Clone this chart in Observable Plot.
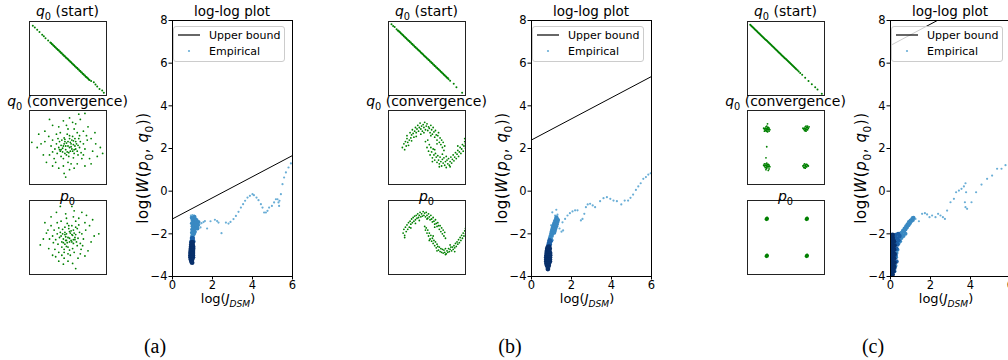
<!DOCTYPE html>
<html><head><meta charset="utf-8">
<script src="https://cdn.jsdelivr.net/npm/d3@7"></script>
<script src="https://cdn.jsdelivr.net/npm/@observablehq/plot@0.6"></script>
<style>
html,body{margin:0;padding:0;background:#fff;}
#page{position:relative;width:1008px;height:360px;overflow:hidden;font-family:"DejaVu Sans",sans-serif;background:#fff;}
</style></head><body><div id="page"></div>
<script>
// ---------- DATA ----------
// small panels: coordinates in % of the box (x right, y up)
const startA = [[4.3,94.2],[6.9,92],[10,88.9],[13,85.8],[16.5,82.2],[18.6,80],[20.8,77.3],[24.2,74.2],
 [27,71.5],[28,71],[29,69.5],[30,69],[31,67.5],[32,67],[33,65.5],[34,65],[35,63.5],[36,63],[37,61.5],[38,61],[39,59.5],[40,59],
 [41,57.5],[42,57],[43,55.5],[44,55],[45,53.5],[46,53],[47,51.5],[48,51],[49,49.5],[50,49],[51,47.5],[52,47],[53,45.5],[54,45],
 [55,43.5],[56,43],[57,41.5],[58,41],[59,39.5],[60,39],[61,37.5],[62,37],[63,35.5],[64,35],[65,33.5],[66,33],[67,31.5],[68,31],
 [69,29.5],[70,29],[71,27.5],[72,27],[73,25.5],[74,25],[75,23.5],[76,23],[77,21.5],[78,21],[80,19.5],
 [83.5,17.8],[85.7,14.7],[87.9,12],[90.9,8.9],[94.4,6.7],[96.5,3.6]];
const convA = [[50,52],[45,55],[55,48],[60,58],[40,45],[52,62],[48,40],[58,42],[35,55],[65,50],[42,60],[54,55],[47,47],[62,45],[38,50],
 [56,65],[44,35],[50,30],[70,55],[30,60],[53,45],[46,58],[59,52],[41,53],[64,62],[36,42],[57,36],[49,68],[67,43],[33,48],[52,50],
 [48,56],[61,55],[43,44],[55,60],[39,58],[66,58],[51,38],[45,63],[58,47],[28,52],[72,48],[50,75],[62,70],[40,70],[54,28],[44,25],
 [68,35],[32,35],[75,60],[25,65],[47,52],[53,57],[57,54],[43,49],[60,48],[37,62],[63,40],[49,44],[56,45],[46,42],[52,66],[41,38],
 [65,66],[35,68],[70,40],[30,44],[58,75],[48,80],[60,82],[66,88],[72,96],[64,95],[20,72],[15,55],[3,57],[10,50],[18,40],[22,30],
 [30,25],[38,22],[45,15],[47,10],[52,20],[58,22],[62,28],[72,25],[78,35],[82,45],[86,55],[92,50],[95,42],[88,38],[80,62],[85,70],
 [76,78],[70,72],[38,78],[30,80],[26,88],[44,86],[52,90],[56,84],[20,58],[12,68],[80,28],[34,30],[26,40],[74,66],[50,58],[54,51],
 [44,52],[59,62],[41,47],[57,59],[39,47],[63,53],[51,43],[46,61]];
const p0A = [[50,50],[46,54],[54,46],[58,56],[42,44],[51,62],[48,38],[57,42],[36,55],[63,49],[43,61],[55,54],[47,46],[61,44],[39,50],
 [55,66],[45,34],[50,28],[68,55],[32,60],[52,44],[46,57],[59,50],[41,52],[62,62],[37,41],[56,35],[49,69],[66,42],[34,47],[52,49],
 [48,55],[60,54],[44,43],[54,59],[40,57],[65,57],[50,37],[46,64],[57,47],[30,52],[70,48],[48,76],[60,72],[41,72],[53,26],[45,22],
 [67,34],[33,34],[73,60],[28,66],[47,51],[53,56],[56,53],[44,48],[59,47],[38,63],[62,39],[49,43],[55,44],[46,41],[51,66],[42,37],
 [64,67],[36,70],[69,39],[31,43],[57,78],[47,82],[58,86],[40,92],[35,84],[55,92],[20,70],[22,56],[14,40],[18,48],[25,35],[30,26],
 [38,18],[44,14],[50,18],[60,8],[56,15],[63,22],[72,25],[76,32],[80,44],[84,52],[90,55],[78,66],[82,74],[74,80],[68,84],[64,76],
 [28,78],[24,60],[26,48],[45,30],[52,33],[58,30],[66,28],[72,70],[38,30],[42,26],[34,24],[60,64],[52,58],[48,46],[43,55],[57,60]];

const startB = [[3.9,96.4],[6,94],[8,92.5],[10.5,89.5],
 [12,88],[13,87.5],[14,86],[15,85.5],[16,84],[17,83.5],[18,82],[19,81.5],[20,80],[21,79.5],[22,78],[23,77.5],[24,76],[25,75.5],
 [26,74],[27,73.5],[28,72],[29,71.5],[30,70],[31,69.5],[32,68],[33,67.5],[34,66],[35,65.5],[36,64],[37,63.5],[38,62],[39,61.5],
 [40,60],[41,59.5],[42,58],[43,57.5],[44,56],[45,55.5],[46,54],[47,53.5],[48,52],[49,51.5],[50,50],[51,49.5],[52,48],[53,47.5],
 [54,46],[55,45.5],[56,44],[57,43.5],[58,42],[59,41.5],[60,40],[61,39.5],[62,38],[63,37.5],[64,36],[65,35.5],[66,34],[67,33.5],
 [68,32],[69,31.5],[70,30],[71,29.5],[72,28],[73,27.5],[74,26],[75,25.5],[76,24],[77,23.5],[78,22],[80,20],
 [84.7,15.8],[88.2,11.3],[95.6,3.6]];
const convB = [[18,50],[20,55],[21,47],[22,58],[23,52],[24,62],[25,57],[24,66],[27,60],[28,70],[29,63],[30,67],[31,74],[32,69],
 [33,64],[34,72],[35,77],[36,70],[37,75],[38,80],[39,72],[40,77],[41,83],[42,75],[43,79],[44,72],[45,81],[46,77],[47,84],[48,74],
 [49,79],[50,82],[51,73],[52,78],[53,76],[54,70],[55,80],[56,74],[57,68],[58,77],[59,71],[60,64],[61,73],[62,67],[63,60],[64,66],
 [65,70],[66,57],[67,63],[68,54],[69,60],[70,50],[71,57],[72,46],[73,52],[36,65],[46,70],[55,66],[26,53],[63,55],[42,68],[30,59],
 [48,58],[50,50],[51,60],[52,45],[53,54],[54,40],[55,50],[56,44],[57,36],[58,48],[59,40],[60,33],[61,42],[62,37],[63,30],[64,39],
 [65,33],[66,28],[67,37],[68,31],[69,25],[70,34],[71,29],[72,36],[73,26],[74,31],[75,23],[76,33],[77,28],[78,35],[79,26],[80,31],
 [81,37],[82,29],[83,34],[84,40],[85,32],[86,37],[87,43],[88,35],[89,41],[90,46],[91,38],[92,44],[93,50],[94,42],[95,48],[96,54],
 [97,45],[98,52],[99,58],[100,49],[100,55],[99,62],[60,47],[70,41],[80,24],[66,24],[57,31],[75,38],[90,52]];
const p0B = [[19,56],[20,61],[21,53],[22,64],[23,58],[24,67],[25,61],[26,70],[27,64],[28,72],[29,68],[30,75],[31,70],[32,77],
 [33,72],[34,79],[35,74],[36,80],[37,76],[38,82],[39,77],[40,80],[41,84],[42,78],[43,82],[44,79],[45,85],[46,80],[47,83],[48,78],
 [49,84],[50,80],[51,76],[52,82],[53,78],[54,74],[55,80],[56,75],[57,71],[58,77],[59,72],[60,68],[61,74],[62,69],[63,65],[64,70],
 [65,66],[66,61],[67,66],[68,58],[69,63],[70,55],[71,60],[72,52],[73,57],[74,49],[29,63],[40,73],[50,75],[60,64],[21,50],[35,69],
 [47,65],[48,60],[49,63],[50,56],[51,60],[52,52],[53,56],[54,48],[55,53],[56,45],[57,49],[58,42],[59,46],[60,39],[61,44],[62,36],
 [63,41],[64,38],[65,33],[66,37],[67,31],[68,35],[69,30],[70,34],[71,29],[72,33],[73,30],[74,35],[75,28],[76,32],[77,30],[78,35],
 [79,31],[80,34],[81,37],[82,32],[83,37],[84,34],[85,39],[86,36],[87,42],[88,38],[89,44],[90,41],[91,47],[92,43],[93,50],[94,46],
 [95,53],[96,49],[97,56],[98,52],[99,59],[100,55],[100,62],[53,46],[63,32],[74,27],[86,31],[58,52],[80,40]];

const startC = [[3.5,95.5],[4.5,94.5],[5.5,93.5],[6.5,92.5],[7.5,91.5],[8.5,90.5],[9.5,89.5],[10.5,88.5],[11.5,87.5],[12.5,86.5],
 [13.5,85.5],[14.5,84.5],[15.5,83.5],[16.5,82.5],[17.5,81.5],[18.5,80.5],[19.5,79.5],[20.5,78.5],[21.5,77.5],[22.5,76.5],[23.5,75.5],
 [24.5,74.5],[25.5,73.5],[26.5,72.5],[27.5,71.5],[28.5,70.5],[29.5,69.5],[30.5,68.5],[31.5,67.5],[32.5,66.5],[33.5,65.5],[34.5,64.5],
 [35.5,63.5],[36.5,62.5],[37.5,61.5],[38.5,60.5],[39.5,59.5],[40.5,58.5],[41.5,57.5],[42.5,56.5],[43.5,55.5],[44.5,54.5],[45.5,53.5],
 [46.5,52.5],[47.5,51.5],[48.5,50.5],[49.5,49.5],[50.5,48.5],[51.5,47.5],[52.5,46.5],[53.5,45.5],[54.5,44.5],[55.5,43.5],[56.5,42.5],
 [57.5,41.5],[58.5,40.5],[59.5,39.5],[60.5,38.5],[61.5,37.5],[62.5,36.5],[63.5,35.5],[65,34],[66.5,32.5],
 [68.4,30.5],[71,28],[74.9,24],[79.2,19.6],[83.5,15.2],[87.9,11.3],[90.9,8],[96.5,2.5]];
const convC = [[25,75],[23,76],[27,74],[24,73],[26,77],[22,75],[28,76],[25,72],[24,78],[27,77],[23,73],[26,74],[21,76],[29,74],
 [25,79],[28,72],[22,72],[26,71],[24,75],[26,76],
 [76,75],[74,76],[78,74],[75,73],[77,77],[73,75],[79,76],[76,72],[75,78],[78,77],[74,73],[77,74],[80,78],[72,76],[76,79],[75,75],
 [25,25],[23,26],[27,24],[24,23],[26,27],[22,25],[28,26],[25,22],[24,28],[27,27],[23,23],[26,24],[21,26],[29,24],[25,29],[28,21],
 [22,28],[27,19],[24,20],[25,26],
 [75,25],[73,26],[77,24],[74,23],[76,27],[72,25],[78,26],[75,22],[74,28],[77,27],[73,23],[76,24],[79,25],[75,26],
 [25,51],[24,36],[26,82],[78,79]];
const p0C = [[25,75],[24,76],[26,74],[25,76.5],[23.5,74.5],[26.5,75.5],[24.5,73.5],[25.5,77],[24,75],[26,76],
 [77,75],[76,76],[78,74],[77,76.5],[75.5,74.5],[78.5,75.5],[76.5,73.5],[77.5,77],[76,75],[78,76],
 [25,25],[24,26],[26,24],[25,26.5],[23.5,24.5],[26.5,25.5],[24.5,23.5],[25.5,27],[24,25],[26,26],
 [77,25],[76,26],[78,24],[77,26.5],[75.5,24.5],[78.5,25.5],[76.5,23.5],[77.5,27],[76,25],[78,26]];

// log-log panels: [log J_DSM, log W]
const xTicks = [0, 2, 4, 6];
const yTicks = [-4, -2, 0, 2, 4, 6, 8];
const boundA = [[0,-1.3],[6,1.67]];
const boundB = [[0,2.4],[6,5.375]];
const boundC = [[0,6.83],[6,9.83]];

const darkA = [[0.95,-3.3],[0.92,-3.2],[0.98,-3.2],[0.9,-3.1],[0.96,-3.1],[1.02,-3.1],[0.9,-3.0],[0.96,-3.0],[1.02,-3.0],[0.9,-2.9],
 [0.96,-2.9],[1.02,-2.9],[0.91,-2.8],[0.97,-2.8],[1.02,-2.8],[0.92,-2.7],[0.98,-2.7],[1.03,-2.7],[0.93,-2.6],[0.99,-2.6],[1.03,-2.6],
 [0.94,-2.5],[1.0,-2.5],[0.96,-2.4],[1.01,-2.4],[0.98,-3.35]];
const deepA = [[0.95,-2.35],[1.0,-2.3],[1.04,-2.35],[0.97,-2.2],[1.02,-2.2]];
const midA = [[0.98,-2.1],[1.03,-2.05],[1.08,-2.0],[0.97,-1.95],[1.02,-1.9],[1.07,-1.85],[1.12,-1.9],[0.98,-1.8],[1.04,-1.75],
 [1.1,-1.7],[1.15,-1.75],[1.0,-1.65],[1.06,-1.6],[1.12,-1.55],[1.18,-1.6],[0.97,-1.5],[1.03,-1.45],[1.09,-1.4],[1.15,-1.45],
 [1.22,-1.5],[1.0,-1.35],[1.06,-1.3],[1.13,-1.3],[1.2,-1.35],[0.96,-1.25],[1.1,-1.2],[1.27,-1.6],[1.3,-1.45],[1.25,-1.75]];
const lightA = [[0.92,-1.15],[1.0,-1.12],[1.08,-1.15],[1.35,-1.55],[1.4,-1.7],[1.45,-1.5],[1.55,-1.45],[1.62,-1.4],[1.73,-1.75],
 [1.9,-1.41],[2.12,-1.34],[2.23,-1.4],[2.3,-1.47],[2.45,-1.97],[2.67,-1.47],[2.8,-1.52],[2.9,-1.44],[3.05,-1.31],[3.17,-1.16],
 [3.3,-0.97],[3.42,-0.77],[3.53,-0.61],[3.63,-0.45],[3.75,-0.3],[3.87,-0.22],[4.0,-0.14],[4.07,-0.19],[4.2,-0.3],[4.3,-0.42],
 [4.42,-0.61],[4.5,-0.77],[4.58,-1.0],[4.67,-1.0],[4.75,-0.92],[4.83,-0.77],[4.97,-0.69],[5.08,-0.53],[5.17,-0.38],[5.25,-0.38],
 [5.3,-0.53],[5.33,-0.69],[5.35,-0.45],[5.42,-0.14],[5.5,0.33],[5.58,0.64],[5.67,0.88],[5.8,1.11],[5.92,1.3]];

const darkB = [[0.82,-3.65],[0.78,-3.5],[0.86,-3.5],[0.75,-3.4],[0.81,-3.4],[0.87,-3.4],[0.74,-3.3],[0.8,-3.3],[0.86,-3.3],[0.92,-3.3],
 [0.74,-3.2],[0.8,-3.2],[0.86,-3.2],[0.92,-3.2],[0.74,-3.1],[0.8,-3.1],[0.86,-3.1],[0.92,-3.1],[0.75,-3.0],[0.81,-3.0],[0.87,-3.0],
 [0.93,-3.0],[0.76,-2.9],[0.82,-2.9],[0.88,-2.9],[0.93,-2.9],[0.77,-2.8],[0.83,-2.8],[0.89,-2.8],[0.79,-2.7],[0.85,-2.7],[0.91,-2.7],
 [0.82,-2.62],[0.88,-2.6]];
const deepB = [[0.85,-2.5],[0.92,-2.5],[0.88,-2.4],[0.95,-2.35],[0.9,-2.3]];
const midB = [[0.92,-2.2],[0.98,-2.25],[0.95,-2.1],[1.02,-2.1],[0.98,-2.0],[1.05,-2.0],[1.0,-1.9],[1.08,-1.9],[1.14,-1.95],[1.03,-1.8],
 [1.1,-1.8],[1.17,-1.85],[1.06,-1.7],[1.13,-1.7],[1.2,-1.75],[1.1,-1.6],[1.17,-1.6],[1.24,-1.65],[1.13,-1.5],[1.2,-1.5],[1.27,-1.55],
 [1.17,-1.4],[1.24,-1.4],[1.3,-1.45],[1.22,-1.3],[1.28,-1.32],[1.33,-1.35],[1.25,-1.22],[0.9,-2.45],[0.94,-2.38],[1.0,-2.3]];
const lightB = [[1.04,-0.99],[1.24,-0.87],[1.18,-1.15],[1.3,-1.1],[0.98,-1.6],[1.0,-1.85],[1.4,-1.75],[1.55,-1.46],[1.58,-1.84],
 [1.5,-1.9],[1.68,-1.3],[1.8,-1.14],[1.92,-1.03],[2.05,-0.95],[2.18,-0.9],[2.3,-0.9],[2.47,-1.37],[2.55,-1.3],[2.64,-1.06],
 [2.72,-0.75],[2.81,-0.62],[2.93,-0.59],[3.06,-0.67],[3.18,-0.75],[3.43,-0.47],[3.6,-0.33],[3.77,-0.28],[3.94,-0.36],[4.1,-0.44],
 [4.27,-0.47],[4.49,-0.62],[4.66,-0.44],[4.83,-0.44],[4.95,-0.31],[5.08,-0.16],[5.22,0.06],[5.34,0.22],[5.46,0.37],[5.59,0.58],
 [5.72,0.66],[5.84,0.78],[5.96,0.84]];

const darkC = [[0.03,-3.95],[0.1,-3.9],[0.05,-3.8],[0.15,-3.75],[0.03,-3.65],[0.1,-3.6],[0.18,-3.55],[0.04,-3.45],[0.11,-3.4],
 [0.2,-3.35],[0.03,-3.25],[0.1,-3.2],[0.18,-3.15],[0.04,-3.05],[0.11,-3.0],[0.2,-2.95],[0.03,-2.85],[0.1,-2.8],[0.18,-2.75],
 [0.04,-2.65],[0.11,-2.6],[0.2,-2.55],[0.03,-2.45],[0.1,-2.4],[0.17,-2.35],[0.04,-2.25],[0.11,-2.2],[0.03,-2.08],[0.1,-2.05]];
const deepC = [[0.25,-3.0],[0.3,-2.7],[0.22,-2.2],[0.28,-2.4],[0.35,-2.5],[0.25,-2.05],[0.32,-2.2],[0.4,-2.3],[0.3,-3.3],[0.2,-3.6],
 [0.16,-2.1],[0.45,-2.1],[0.38,-2.0]];
const midC = [[0.45,-2.0],[0.5,-2.15],[0.55,-1.95],[0.6,-2.05],[0.62,-1.85],[0.68,-1.9],[0.7,-1.75],[0.75,-1.8],[0.78,-1.65],
 [0.82,-1.7],[0.85,-1.55],[0.9,-1.6],[0.92,-1.45],[0.97,-1.5],[1.0,-1.38],[1.05,-1.4],[1.08,-1.3],[1.12,-1.35],[1.15,-1.25],
 [0.55,-2.2],[0.65,-2.1],[0.4,-2.45],[0.48,-2.35],[0.75,-2.0],[0.3,-2.9],[0.35,-2.75],[0.28,-3.1],[0.2,-3.75],[0.25,-3.5]];
const lightC = [[1.08,-1.22],[1.25,-1.3],[1.42,-1.41],[1.58,-1.06],[1.72,-1.03],[1.83,-1.09],[1.95,-1.22],[2.08,-1.14],[2.25,-1.22],
 [2.38,-1.06],[2.5,-1.14],[2.62,-1.22],[2.72,-1.3],[2.83,-0.91],[3.0,-0.52],[3.17,-0.36],[3.28,-0.05],[3.42,0.03],[3.55,0.11],
 [3.67,0.22],[3.75,0.37],[3.78,-0.05],[3.72,-0.52],[3.75,-0.75],[3.83,-0.83],[4.05,-0.52],[4.28,-0.05],[4.55,0.31],[4.83,0.58],
 [5.08,0.73],[5.33,1.05],[5.55,1.05],[5.75,1.22]];

const panelLabels = ["(a)", "(b)", "(c)"];
const legendLabels = ["Upper bound", "Empirical"];

// ---------- LAYOUT ----------
const page = document.getElementById("page");
const GREEN = "#008000";
const C_LIGHT = "#6aaed6", C_MID = "#3a89c2", C_DEEP = "#1b5ea6", C_DARK = "#08306b";
const BOX_W = 77, BOX_H = 74;
const boxLefts = [29, 388, 747], boxTops = [21, 110, 200];
const llLefts = [172, 531, 890], LL_TOP = 20, LL_W = 120, LL_H = 256;
const fmt = d => d < 0 ? "\u2212" + (-d) : String(d);

function place(el, left, top) {
  el.style.position = "absolute"; el.style.left = left + "px"; el.style.top = top + "px";
  page.appendChild(el);
}
function smallBox(pts, left, top, r) {
  const svg = Plot.plot({
    width: BOX_W + 2, height: BOX_H + 2, margin: 1,
    x: {domain: [0, 100], axis: null}, y: {domain: [0, 100], axis: null},
    style: {background: "transparent"},
    marks: [
      Plot.dot(pts, {x: d => d[0], y: d => d[1], r, fill: GREEN, clip: true}),
      Plot.frame({stroke: "#222", strokeWidth: 1})
    ]
  });
  place(svg, left - 1, top - 1);
}
function logPlot(p, left) {
  const mL = 34, mR = 6, mT = 8, mB = 26;
  const X = d => d[0], Y = d => d[1];
  const svg = Plot.plot({
    width: mL + LL_W + mR, height: mT + LL_H + mB,
    marginLeft: mL, marginRight: mR, marginTop: mT, marginBottom: mB,
    x: {domain: [0, 6]}, y: {domain: [-4, 8]},
    style: {fontFamily: "DejaVu Sans", fontSize: "11.5px", color: "#000", background: "transparent"},
    marks: [
      Plot.line(p.bound, {x: X, y: Y, stroke: "#000", strokeWidth: 1, clip: true}),
      Plot.dot(p.light, {x: X, y: Y, r: 1.1, fill: C_LIGHT, clip: true}),
      Plot.dot(p.mid, {x: X, y: Y, r: 2, fill: C_MID, clip: true}),
      Plot.dot(p.deep, {x: X, y: Y, r: 2.2, fill: C_DEEP, clip: true}),
      Plot.dot(p.dark, {x: X, y: Y, r: 2.4, fill: C_DARK, clip: true}),
      Plot.frame({stroke: "#000", strokeWidth: 1}),
      Plot.axisX({ticks: xTicks, tickSize: 3.5, tickPadding: 1, tickFormat: fmt, label: null}),
      Plot.axisY({ticks: yTicks, tickSize: 3.5, tickPadding: 1.5, tickFormat: fmt, label: null})
    ]
  });
  place(svg, left - mL, LL_TOP - mT);
}

const panels = [
  {start: startA, conv: convA, p0: p0A, bound: boundA, light: lightA, mid: midA, deep: deepA, dark: darkA},
  {start: startB, conv: convB, p0: p0B, bound: boundB, light: lightB, mid: midB, deep: deepB, dark: darkB},
  {start: startC, conv: convC, p0: p0C, bound: boundC, light: lightC, mid: midC, deep: deepC, dark: darkC}
];
panels.forEach((p, i) => {
  smallBox(p.start, boxLefts[i], boxTops[0], 1.0);
  smallBox(p.conv, boxLefts[i], boxTops[1], 0.9);
  smallBox(p.p0, boxLefts[i], boxTops[2], i === 2 ? 1.1 : 0.9);
  logPlot(p, llLefts[i]);
});

// ---------- TEXT OVERLAY ----------
const ov = d3.select(page).append("svg").attr("width", 1008).attr("height", 360)
  .style("position", "absolute").style("left", "0px").style("top", "0px").style("overflow", "hidden");

function mtext(x, y, parts, size, opts = {}) {
  const t = ov.append("text").attr("x", x).attr("y", y).attr("font-size", size)
    .attr("font-family", "DejaVu Sans").attr("text-anchor", opts.anchor || "middle").attr("fill", "#000");
  if (opts.rotate) t.attr("transform", `rotate(-90 ${x} ${y})`);
  if (opts.ls) t.attr("letter-spacing", opts.ls);
  let shift = 0;
  for (const [s, st] of parts) {
    const sp = t.append("tspan").text(s);
    if (st.includes("i")) sp.attr("font-style", "italic");
    const target = st.includes("s") ? size * 0.3 : 0;
    if (st.includes("s")) sp.attr("font-size", size * 0.7);
    if (target !== shift) { sp.attr("dy", target - shift); shift = target; }
  }
  return t;
}

panels.forEach((p, i) => {
  const bc = boxLefts[i] + BOX_W / 2;
  mtext(bc, 16, [["q", "i"], ["0", "s"], [" (start)", "n"]], 14);
  mtext(bc, 105.5, [["q", "i"], ["0", "s"], [" (convergence)", "n"]], 14);
  mtext(bc, 200.5, [["p", "i"], ["0", "s"]], 14);
  const L = llLefts[i];
  mtext(L + 60, 16, [["log-log plot", "n"]], 13.5);
  mtext(L + 56, 303, [["log(", "n"], ["J", "i"], ["DSM", "si"], [")", "n"]], 13);
  mtext(L - 24, 168, [["log(", "n"], ["W", "i"], ["(", "n"], ["p", "i"], ["0", "s"], [", ", "n"], ["q", "i"], ["0", "s"], ["))", "n"]], 15, {rotate: true, ls: 0.6});
  // legend
  const g = ov.append("g");
  g.append("rect").attr("x", L + 1.5).attr("y", 26.5).attr("width", 111).attr("height", 35).attr("rx", 2.5)
    .attr("fill", "#fff").attr("fill-opacity", 0.8).attr("stroke", "#cccccc").attr("stroke-width", 1);
  g.append("line").attr("x1", L + 6).attr("x2", L + 28).attr("y1", 35).attr("y2", 35).attr("stroke", "#000").attr("stroke-width", 1.2);
  g.append("circle").attr("cx", L + 17).attr("cy", 51).attr("r", 1.1).attr("fill", C_LIGHT);
  g.append("text").attr("x", L + 37).attr("y", 38.5).attr("font-size", 11).attr("font-family", "DejaVu Sans").text(legendLabels[0]);
  g.append("text").attr("x", L + 37).attr("y", 54.5).attr("font-size", 11).attr("font-family", "DejaVu Sans").text(legendLabels[1]);
});
[155, 510, 873].forEach((cx, i) => {
  ov.append("text").attr("x", cx).attr("y", 353).attr("text-anchor", "middle").attr("font-size", 20)
    .attr("font-family", "Liberation Serif").text(panelLabels[i]);
});
</script></body></html>
